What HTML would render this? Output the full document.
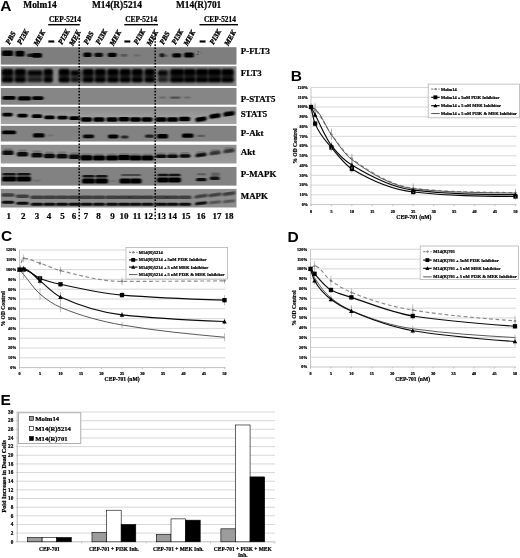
<!DOCTYPE html>
<html><head><meta charset="utf-8"><title>Figure</title>
<style>html,body{margin:0;padding:0;background:#fff}svg{display:block}.sf{font-family:"Liberation Serif", serif;font-weight:bold;stroke:#000;stroke-width:.22px;paint-order:stroke}.ss{font-family:"Liberation Sans", sans-serif;font-weight:bold}</style></head><body>
<svg width="520" height="558" viewBox="0 0 520 558">
<defs><filter id="b1" x="-30%" y="-80%" width="160%" height="260%"><feGaussianBlur stdDeviation="0.9 0.7"/></filter><filter id="b2" x="-30%" y="-80%" width="160%" height="260%"><feGaussianBlur stdDeviation="1.0 0.9"/></filter><linearGradient id="g3" x1="0" y1="0" x2="0" y2="1"><stop offset="0" stop-color="#8a8a8a"/><stop offset=".55" stop-color="#9c9c9c"/><stop offset="1" stop-color="#a4a4a4"/></linearGradient><linearGradient id="g5" x1="0" y1="0" x2="0" y2="1"><stop offset="0" stop-color="#8e8e8e"/><stop offset="1" stop-color="#9b9b9b"/></linearGradient></defs>
<rect width="520" height="558" fill="#fff"/>
<text class="ss" x="0.20" y="11.40" font-size="15.5" text-anchor="start" fill="#000" >A</text>
<text class="sf" x="23.30" y="8.20" font-size="9.4" text-anchor="start" fill="#000" >Molm14</text>
<text class="sf" x="92.00" y="8.20" font-size="9.4" text-anchor="start" fill="#000" >M14(R)5214</text>
<text class="sf" x="176.00" y="8.20" font-size="9.4" text-anchor="start" fill="#000" >M14(R)701</text>
<text class="sf" x="65.00" y="21.60" font-size="7.4" text-anchor="middle" fill="#000" >CEP-5214</text>
<rect x="48.2" y="24" width="31.599999999999994" height="1.4" fill="#000"/>
<text class="sf" x="141.15" y="21.60" font-size="7.4" text-anchor="middle" fill="#000" >CEP-5214</text>
<rect x="124.3" y="24" width="33.7" height="1.4" fill="#000"/>
<text class="sf" x="219.95" y="21.60" font-size="7.4" text-anchor="middle" fill="#000" >CEP-5214</text>
<rect x="199.5" y="24" width="38.5" height="1.4" fill="#000"/>
<text class="sf" font-size="7.3" font-style="italic" style="stroke-width:.35px" transform="translate(9.6,45.0) rotate(-61)" fill="#000">PBS</text>
<text class="sf" font-size="7.3" font-style="italic" style="stroke-width:.35px" transform="translate(21.1,45.0) rotate(-61)" fill="#000">PI3K</text>
<text class="sf" font-size="7.3" font-style="italic" style="stroke-width:.35px" transform="translate(37.6,46.3) rotate(-61)" fill="#000">MEK</text>
<text class="sf" x="49.3" y="42.5" font-size="8.4" style="stroke-width:1.6px" fill="#000">–</text>
<text class="sf" font-size="7.3" font-style="italic" style="stroke-width:.35px" transform="translate(62.1,45.0) rotate(-61)" fill="#000">PI3K</text>
<text class="sf" font-size="7.3" font-style="italic" style="stroke-width:.35px" transform="translate(73.1,46.3) rotate(-61)" fill="#000">MEK</text>
<text class="sf" font-size="7.3" font-style="italic" style="stroke-width:.35px" transform="translate(87.6,45.0) rotate(-61)" fill="#000">PBS</text>
<text class="sf" font-size="7.3" font-style="italic" style="stroke-width:.35px" transform="translate(99.6,45.0) rotate(-61)" fill="#000">PI3K</text>
<text class="sf" font-size="7.3" font-style="italic" style="stroke-width:.35px" transform="translate(113.6,46.3) rotate(-61)" fill="#000">MEK</text>
<text class="sf" x="125.3" y="42.5" font-size="8.4" style="stroke-width:1.6px" fill="#000">–</text>
<text class="sf" font-size="7.3" font-style="italic" style="stroke-width:.35px" transform="translate(137.6,45.0) rotate(-61)" fill="#000">PI3K</text>
<text class="sf" font-size="7.3" font-style="italic" style="stroke-width:.35px" transform="translate(150.6,46.3) rotate(-61)" fill="#000">MEK</text>
<text class="sf" font-size="7.3" font-style="italic" style="stroke-width:.35px" transform="translate(163.6,45.0) rotate(-61)" fill="#000">PBS</text>
<text class="sf" font-size="7.3" font-style="italic" style="stroke-width:.35px" transform="translate(175.6,45.0) rotate(-61)" fill="#000">PI3K</text>
<text class="sf" font-size="7.3" font-style="italic" style="stroke-width:.35px" transform="translate(187.6,46.3) rotate(-61)" fill="#000">MEK</text>
<text class="sf" x="200.5" y="42.5" font-size="8.4" style="stroke-width:1.6px" fill="#000">–</text>
<text class="sf" font-size="7.3" font-style="italic" style="stroke-width:.35px" transform="translate(213.6,45.0) rotate(-61)" fill="#000">PI3K</text>
<text class="sf" font-size="7.3" font-style="italic" style="stroke-width:.35px" transform="translate(228.29999999999998,46.3) rotate(-61)" fill="#000">MEK</text>
<clipPath id="cr0"><rect x="0.8" y="47.2" width="235.7" height="17.39999999999999"/></clipPath>
<rect x="0.8" y="47.2" width="235.7" height="17.39999999999999" fill="#7e7e7e"/>
<clipPath id="cr1"><rect x="0.8" y="66.2" width="235.7" height="19.799999999999997"/></clipPath>
<rect x="0.8" y="66.2" width="235.7" height="19.799999999999997" fill="#8a8a8a"/>
<clipPath id="cr2"><rect x="0.8" y="88.0" width="235.7" height="16.700000000000003"/></clipPath>
<rect x="0.8" y="88.0" width="235.7" height="16.700000000000003" fill="#868686"/>
<clipPath id="cr3"><rect x="0.8" y="106.8" width="235.7" height="17.299999999999997"/></clipPath>
<rect x="0.8" y="106.8" width="235.7" height="17.299999999999997" fill="url(#g3)"/>
<clipPath id="cr4"><rect x="0.8" y="125.8" width="235.7" height="15.700000000000003"/></clipPath>
<rect x="0.8" y="125.8" width="235.7" height="15.700000000000003" fill="#828282"/>
<clipPath id="cr5"><rect x="0.8" y="144.8" width="235.7" height="18.69999999999999"/></clipPath>
<rect x="0.8" y="144.8" width="235.7" height="18.69999999999999" fill="url(#g5)"/>
<clipPath id="cr6"><rect x="0.8" y="167.0" width="235.7" height="18.599999999999994"/></clipPath>
<rect x="0.8" y="167.0" width="235.7" height="18.599999999999994" fill="#828282"/>
<clipPath id="cr7"><rect x="0.8" y="188.9" width="235.7" height="18.599999999999994"/></clipPath>
<rect x="0.8" y="188.9" width="235.7" height="18.599999999999994" fill="#8d8d8d"/>
<g clip-path="url(#cr0)"><rect x="2.0" y="50.40" width="11.0" height="5.60" rx="1.6" fill="#000" opacity="1" filter="url(#b1)"/></g>
<g clip-path="url(#cr0)"><rect x="15.4" y="50.70" width="9.0" height="5.80" rx="1.6" fill="#000" opacity="1" filter="url(#b1)"/></g>
<g clip-path="url(#cr0)"><rect x="27.0" y="53.40" width="14.0" height="3.60" rx="1.6" fill="#000" opacity="0.8" filter="url(#b1)"/></g>
<g clip-path="url(#cr0)"><rect x="32.0" y="53.00" width="9.8" height="4.80" rx="1.6" fill="#000" opacity="0.95" filter="url(#b1)"/></g>
<g clip-path="url(#cr0)"><rect x="83.4" y="52.50" width="8.2" height="4.60" rx="1.6" fill="#000" opacity="1" filter="url(#b1)"/></g>
<g clip-path="url(#cr0)"><rect x="94.4" y="52.70" width="8.6" height="4.20" rx="1.6" fill="#000" opacity="0.9" filter="url(#b1)"/></g>
<g clip-path="url(#cr0)"><rect x="107.8" y="52.70" width="8.8" height="4.40" rx="1.6" fill="#000" opacity="1" filter="url(#b1)"/></g>
<g clip-path="url(#cr0)"><rect x="120.5" y="54.10" width="7.0" height="2.60" rx="1.3" fill="#000" opacity="0.3" filter="url(#b1)"/></g>
<g clip-path="url(#cr0)"><rect x="134.0" y="54.20" width="6.5" height="2.40" rx="1.2" fill="#000" opacity="0.15" filter="url(#b1)"/></g>
<g clip-path="url(#cr0)"><rect x="159.5" y="53.20" width="5.0" height="4.00" rx="1.6" fill="#000" opacity="0.8" filter="url(#b1)"/></g>
<g clip-path="url(#cr0)"><rect x="164.0" y="54.60" width="4.0" height="2.40" rx="1.2" fill="#000" opacity="0.25" filter="url(#b1)"/></g>
<g clip-path="url(#cr0)"><rect x="172.3" y="53.25" width="8.9" height="4.30" rx="1.6" fill="#000" opacity="1" filter="url(#b1)"/></g>
<g clip-path="url(#cr0)"><rect x="184.2" y="52.50" width="9.6" height="5.00" rx="1.6" fill="#000" opacity="1" filter="url(#b1)"/></g>
<text x="196.6" y="55.4" font-size="5.6" font-family='"Liberation Serif", serif' font-style="italic" fill="#333">2<tspan dy="-1.6" font-size="4.6">+</tspan></text>
<g clip-path="url(#cr1)"><rect x="2.0" y="69.75" width="51.0" height="12.50" rx="1.6" fill="#000" opacity="0.42" filter="url(#b2)"/></g>
<g clip-path="url(#cr1)"><rect x="58.5" y="69.75" width="97.5" height="12.50" rx="1.6" fill="#000" opacity="0.42" filter="url(#b2)"/></g>
<g clip-path="url(#cr1)"><rect x="158.0" y="69.75" width="76.0" height="12.50" rx="1.6" fill="#000" opacity="0.42" filter="url(#b2)"/></g>
<g clip-path="url(#cr1)"><rect x="2.0" y="69.00" width="11.0" height="6.60" rx="1.6" fill="#000" opacity="1" filter="url(#b2)"/></g>
<g clip-path="url(#cr1)"><rect x="2.0" y="77.20" width="11.0" height="5.00" rx="1.6" fill="#000" opacity="1" filter="url(#b2)"/></g>
<g clip-path="url(#cr1)"><rect x="2.8" y="74.40" width="9.4" height="4.00" rx="1.6" fill="#000" opacity="0.62" filter="url(#b2)"/></g>
<g clip-path="url(#cr1)"><rect x="15.0" y="69.00" width="10.5" height="6.60" rx="1.6" fill="#000" opacity="1" filter="url(#b2)"/></g>
<g clip-path="url(#cr1)"><rect x="15.0" y="77.20" width="10.5" height="5.00" rx="1.6" fill="#000" opacity="1" filter="url(#b2)"/></g>
<g clip-path="url(#cr1)"><rect x="15.8" y="74.40" width="8.9" height="4.00" rx="1.6" fill="#000" opacity="0.62" filter="url(#b2)"/></g>
<g clip-path="url(#cr1)"><rect x="28.0" y="70.50" width="14.0" height="5.00" rx="1.6" fill="#000" opacity="0.95" filter="url(#b2)"/></g>
<g clip-path="url(#cr1)"><rect x="28.0" y="77.70" width="14.0" height="4.00" rx="1.6" fill="#000" opacity="0.65" filter="url(#b2)"/></g>
<g clip-path="url(#cr1)"><rect x="28.8" y="74.40" width="12.4" height="4.00" rx="1.6" fill="#000" opacity="0.25" filter="url(#b2)"/></g>
<g clip-path="url(#cr1)"><rect x="44.0" y="69.00" width="8.5" height="6.60" rx="1.6" fill="#000" opacity="1" filter="url(#b2)"/></g>
<g clip-path="url(#cr1)"><rect x="44.0" y="77.20" width="8.5" height="5.00" rx="1.6" fill="#000" opacity="1" filter="url(#b2)"/></g>
<g clip-path="url(#cr1)"><rect x="44.8" y="74.40" width="6.9" height="4.00" rx="1.6" fill="#000" opacity="0.62" filter="url(#b2)"/></g>
<g clip-path="url(#cr1)"><rect x="59.0" y="69.00" width="10.5" height="6.60" rx="1.6" fill="#000" opacity="1" filter="url(#b2)"/></g>
<g clip-path="url(#cr1)"><rect x="59.0" y="77.20" width="10.5" height="5.00" rx="1.6" fill="#000" opacity="1" filter="url(#b2)"/></g>
<g clip-path="url(#cr1)"><rect x="59.8" y="74.40" width="8.9" height="4.00" rx="1.6" fill="#000" opacity="0.62" filter="url(#b2)"/></g>
<g clip-path="url(#cr1)"><rect x="71.0" y="70.50" width="8.5" height="5.00" rx="1.6" fill="#000" opacity="1" filter="url(#b2)"/></g>
<g clip-path="url(#cr1)"><rect x="71.0" y="77.70" width="8.5" height="4.00" rx="1.6" fill="#000" opacity="0.8" filter="url(#b2)"/></g>
<g clip-path="url(#cr1)"><rect x="71.8" y="74.40" width="6.9" height="4.00" rx="1.6" fill="#000" opacity="0.25" filter="url(#b2)"/></g>
<g clip-path="url(#cr1)"><rect x="83.0" y="69.00" width="10.5" height="6.60" rx="1.6" fill="#000" opacity="1" filter="url(#b2)"/></g>
<g clip-path="url(#cr1)"><rect x="83.0" y="77.20" width="10.5" height="5.00" rx="1.6" fill="#000" opacity="1" filter="url(#b2)"/></g>
<g clip-path="url(#cr1)"><rect x="83.8" y="74.40" width="8.9" height="4.00" rx="1.6" fill="#000" opacity="0.62" filter="url(#b2)"/></g>
<g clip-path="url(#cr1)"><rect x="95.0" y="69.00" width="10.5" height="6.60" rx="1.6" fill="#000" opacity="1" filter="url(#b2)"/></g>
<g clip-path="url(#cr1)"><rect x="95.0" y="77.20" width="10.5" height="5.00" rx="1.6" fill="#000" opacity="1" filter="url(#b2)"/></g>
<g clip-path="url(#cr1)"><rect x="95.8" y="74.40" width="8.9" height="4.00" rx="1.6" fill="#000" opacity="0.62" filter="url(#b2)"/></g>
<g clip-path="url(#cr1)"><rect x="107.5" y="69.00" width="11.0" height="6.60" rx="1.6" fill="#000" opacity="1" filter="url(#b2)"/></g>
<g clip-path="url(#cr1)"><rect x="107.5" y="77.20" width="11.0" height="5.00" rx="1.6" fill="#000" opacity="1" filter="url(#b2)"/></g>
<g clip-path="url(#cr1)"><rect x="108.3" y="74.40" width="9.4" height="4.00" rx="1.6" fill="#000" opacity="0.62" filter="url(#b2)"/></g>
<g clip-path="url(#cr1)"><rect x="120.0" y="69.00" width="10.5" height="6.60" rx="1.6" fill="#000" opacity="1" filter="url(#b2)"/></g>
<g clip-path="url(#cr1)"><rect x="120.0" y="77.20" width="10.5" height="5.00" rx="1.6" fill="#000" opacity="1" filter="url(#b2)"/></g>
<g clip-path="url(#cr1)"><rect x="120.8" y="74.40" width="8.9" height="4.00" rx="1.6" fill="#000" opacity="0.62" filter="url(#b2)"/></g>
<g clip-path="url(#cr1)"><rect x="132.0" y="69.00" width="10.5" height="6.60" rx="1.6" fill="#000" opacity="1" filter="url(#b2)"/></g>
<g clip-path="url(#cr1)"><rect x="132.0" y="77.20" width="10.5" height="5.00" rx="1.6" fill="#000" opacity="1" filter="url(#b2)"/></g>
<g clip-path="url(#cr1)"><rect x="132.8" y="74.40" width="8.9" height="4.00" rx="1.6" fill="#000" opacity="0.62" filter="url(#b2)"/></g>
<g clip-path="url(#cr1)"><rect x="145.0" y="69.00" width="9.5" height="6.60" rx="1.6" fill="#000" opacity="1" filter="url(#b2)"/></g>
<g clip-path="url(#cr1)"><rect x="145.0" y="77.20" width="9.5" height="5.00" rx="1.6" fill="#000" opacity="1" filter="url(#b2)"/></g>
<g clip-path="url(#cr1)"><rect x="145.8" y="74.40" width="7.9" height="4.00" rx="1.6" fill="#000" opacity="0.62" filter="url(#b2)"/></g>
<g clip-path="url(#cr1)"><rect x="158.0" y="70.50" width="9.5" height="5.00" rx="1.6" fill="#000" opacity="0.8999999999999999" filter="url(#b2)"/></g>
<g clip-path="url(#cr1)"><rect x="158.0" y="77.70" width="9.5" height="4.00" rx="1.6" fill="#000" opacity="0.6" filter="url(#b2)"/></g>
<g clip-path="url(#cr1)"><rect x="158.8" y="74.40" width="7.9" height="4.00" rx="1.6" fill="#000" opacity="0.25" filter="url(#b2)"/></g>
<g clip-path="url(#cr1)"><rect x="170.5" y="69.00" width="13.5" height="6.60" rx="1.6" fill="#000" opacity="1" filter="url(#b2)"/></g>
<g clip-path="url(#cr1)"><rect x="170.5" y="77.20" width="13.5" height="5.00" rx="1.6" fill="#000" opacity="1" filter="url(#b2)"/></g>
<g clip-path="url(#cr1)"><rect x="171.3" y="74.40" width="11.9" height="4.00" rx="1.6" fill="#000" opacity="0.62" filter="url(#b2)"/></g>
<g clip-path="url(#cr1)"><rect x="184.0" y="69.00" width="11.5" height="6.60" rx="1.6" fill="#000" opacity="1" filter="url(#b2)"/></g>
<g clip-path="url(#cr1)"><rect x="184.0" y="77.20" width="11.5" height="5.00" rx="1.6" fill="#000" opacity="1" filter="url(#b2)"/></g>
<g clip-path="url(#cr1)"><rect x="184.8" y="74.40" width="9.9" height="4.00" rx="1.6" fill="#000" opacity="0.62" filter="url(#b2)"/></g>
<g clip-path="url(#cr1)"><rect x="196.0" y="69.00" width="12.0" height="6.60" rx="1.6" fill="#000" opacity="1" filter="url(#b2)"/></g>
<g clip-path="url(#cr1)"><rect x="196.0" y="77.20" width="12.0" height="5.00" rx="1.6" fill="#000" opacity="1" filter="url(#b2)"/></g>
<g clip-path="url(#cr1)"><rect x="196.8" y="74.40" width="10.4" height="4.00" rx="1.6" fill="#000" opacity="0.62" filter="url(#b2)"/></g>
<g clip-path="url(#cr1)"><rect x="208.0" y="69.00" width="13.0" height="6.60" rx="1.6" fill="#000" opacity="1" filter="url(#b2)"/></g>
<g clip-path="url(#cr1)"><rect x="208.0" y="77.20" width="13.0" height="5.00" rx="1.6" fill="#000" opacity="1" filter="url(#b2)"/></g>
<g clip-path="url(#cr1)"><rect x="208.8" y="74.40" width="11.4" height="4.00" rx="1.6" fill="#000" opacity="0.62" filter="url(#b2)"/></g>
<g clip-path="url(#cr1)"><rect x="221.5" y="69.00" width="12.0" height="6.60" rx="1.6" fill="#000" opacity="1" filter="url(#b2)"/></g>
<g clip-path="url(#cr1)"><rect x="221.5" y="77.20" width="12.0" height="5.00" rx="1.6" fill="#000" opacity="1" filter="url(#b2)"/></g>
<g clip-path="url(#cr1)"><rect x="222.3" y="74.40" width="10.4" height="4.00" rx="1.6" fill="#000" opacity="0.62" filter="url(#b2)"/></g>
<g clip-path="url(#cr2)"><rect x="2.5" y="96.00" width="13.0" height="3.80" rx="1.6" fill="#000" opacity="1" filter="url(#b1)"/></g>
<g clip-path="url(#cr2)"><rect x="18.0" y="96.30" width="13.0" height="4.20" rx="1.6" fill="#000" opacity="1" filter="url(#b1)"/></g>
<g clip-path="url(#cr2)"><rect x="32.0" y="96.30" width="11.5" height="3.60" rx="1.6" fill="#000" opacity="1" filter="url(#b1)"/></g>
<g clip-path="url(#cr2)"><rect x="159.0" y="96.60" width="7.0" height="2.00" rx="1.0" fill="#000" opacity="0.22" filter="url(#b1)"/></g>
<g clip-path="url(#cr2)"><rect x="170.0" y="96.50" width="10.5" height="2.20" rx="1.1" fill="#000" opacity="0.4" filter="url(#b1)"/></g>
<g clip-path="url(#cr2)"><rect x="184.0" y="96.60" width="6.5" height="2.00" rx="1.0" fill="#000" opacity="0.22" filter="url(#b1)"/></g>
<g clip-path="url(#cr3)"><rect x="2.3" y="112.75" width="10.4" height="3.70" rx="1.6" fill="#000" opacity="1" filter="url(#b1)"/></g>
<g clip-path="url(#cr3)"><rect x="17.3" y="113.75" width="10.4" height="3.70" rx="1.6" fill="#000" opacity="1" filter="url(#b1)"/></g>
<g clip-path="url(#cr3)"><rect x="31.8" y="114.35" width="10.4" height="3.70" rx="1.6" fill="#000" opacity="1" filter="url(#b1)"/></g>
<g clip-path="url(#cr3)"><rect x="44.3" y="115.55" width="10.4" height="3.70" rx="1.6" fill="#000" opacity="1" filter="url(#b1)"/></g>
<g clip-path="url(#cr3)"><rect x="57.3" y="115.75" width="10.4" height="3.70" rx="1.6" fill="#000" opacity="1" filter="url(#b1)"/></g>
<g clip-path="url(#cr3)"><rect x="69.3" y="116.35" width="10.4" height="3.70" rx="1.6" fill="#000" opacity="1" filter="url(#b1)"/></g>
<g clip-path="url(#cr3)"><rect x="80.9" y="117.15" width="11.2" height="4.50" rx="1.6" fill="#000" opacity="1" filter="url(#b1)"/></g>
<g clip-path="url(#cr3)"><rect x="93.4" y="117.35" width="11.2" height="4.50" rx="1.6" fill="#000" opacity="1" filter="url(#b1)"/></g>
<g clip-path="url(#cr3)"><rect x="106.4" y="117.35" width="11.2" height="4.50" rx="1.6" fill="#000" opacity="1" filter="url(#b1)"/></g>
<g clip-path="url(#cr3)"><rect x="118.4" y="116.95" width="11.2" height="4.50" rx="1.6" fill="#000" opacity="1" filter="url(#b1)"/></g>
<g clip-path="url(#cr3)"><rect x="129.9" y="117.15" width="11.2" height="4.50" rx="1.6" fill="#000" opacity="1" filter="url(#b1)"/></g>
<g clip-path="url(#cr3)"><rect x="141.4" y="117.15" width="11.2" height="4.50" rx="1.6" fill="#000" opacity="1" filter="url(#b1)"/></g>
<g clip-path="url(#cr3)"><rect x="155.4" y="117.35" width="11.2" height="4.50" rx="1.6" fill="#000" opacity="1" filter="url(#b1)"/></g>
<g clip-path="url(#cr3)"><rect x="166.9" y="117.35" width="11.2" height="4.50" rx="1.6" fill="#000" opacity="1" filter="url(#b1)"/></g>
<g clip-path="url(#cr3)"><rect x="178.9" y="116.75" width="11.2" height="4.50" rx="1.6" fill="#000" opacity="1" filter="url(#b1)"/></g>
<g clip-path="url(#cr3)"><rect x="195.4" y="116.95" width="11.2" height="4.50" rx="1.6" fill="#000" opacity="1" filter="url(#b1)" transform="rotate(-8 201.0 119.2)"/></g>
<g clip-path="url(#cr3)"><rect x="209.4" y="113.75" width="11.2" height="4.50" rx="1.6" fill="#000" opacity="1" filter="url(#b1)" transform="rotate(-8 215.0 116.0)"/></g>
<g clip-path="url(#cr3)"><rect x="223.4" y="111.55" width="11.2" height="4.50" rx="1.6" fill="#000" opacity="1" filter="url(#b1)" transform="rotate(-8 229.0 113.8)"/></g>
<g clip-path="url(#cr4)"><rect x="2.0" y="130.50" width="14.0" height="3.80" rx="1.6" fill="#000" opacity="1" filter="url(#b1)"/></g>
<g clip-path="url(#cr4)"><rect x="33.0" y="133.30" width="11.5" height="4.20" rx="1.6" fill="#000" opacity="1" filter="url(#b1)"/></g>
<g clip-path="url(#cr4)"><rect x="47.0" y="134.50" width="7.0" height="2.00" rx="1.0" fill="#000" opacity="0.12" filter="url(#b1)"/></g>
<g clip-path="url(#cr4)"><rect x="83.0" y="134.50" width="11.0" height="3.80" rx="1.6" fill="#000" opacity="0.95" filter="url(#b1)"/></g>
<g clip-path="url(#cr4)"><rect x="108.0" y="134.40" width="10.5" height="4.00" rx="1.6" fill="#000" opacity="1" filter="url(#b1)"/></g>
<g clip-path="url(#cr4)"><rect x="121.0" y="135.50" width="7.5" height="3.00" rx="1.5" fill="#000" opacity="0.7" filter="url(#b1)"/></g>
<g clip-path="url(#cr4)"><rect x="145.0" y="134.60" width="9.0" height="3.20" rx="1.6" fill="#000" opacity="0.75" filter="url(#b1)"/></g>
<g clip-path="url(#cr4)"><rect x="157.0" y="133.90" width="11.0" height="4.60" rx="1.6" fill="#000" opacity="1" filter="url(#b1)"/></g>
<g clip-path="url(#cr4)"><rect x="182.0" y="133.40" width="11.5" height="4.40" rx="1.6" fill="#000" opacity="1" filter="url(#b1)"/></g>
<g clip-path="url(#cr4)"><rect x="197.0" y="134.70" width="8.0" height="2.20" rx="1.1" fill="#000" opacity="0.3" filter="url(#b1)"/></g>
<g clip-path="url(#cr5)"><rect x="2.4" y="150.50" width="11.2" height="4.60" rx="1.6" fill="#000" opacity="0.92" filter="url(#b1)"/></g>
<g clip-path="url(#cr5)"><rect x="3.4" y="148.20" width="9.2" height="2.40" rx="1.2" fill="#000" opacity="0.2" filter="url(#b1)"/></g>
<g clip-path="url(#cr5)"><rect x="16.9" y="151.90" width="11.2" height="4.60" rx="1.6" fill="#000" opacity="0.92" filter="url(#b1)"/></g>
<g clip-path="url(#cr5)"><rect x="17.9" y="149.60" width="9.2" height="2.40" rx="1.2" fill="#000" opacity="0.2" filter="url(#b1)"/></g>
<g clip-path="url(#cr5)"><rect x="31.4" y="152.90" width="11.2" height="4.60" rx="1.6" fill="#000" opacity="0.92" filter="url(#b1)"/></g>
<g clip-path="url(#cr5)"><rect x="32.4" y="150.60" width="9.2" height="2.40" rx="1.2" fill="#000" opacity="0.2" filter="url(#b1)"/></g>
<g clip-path="url(#cr5)"><rect x="43.9" y="153.70" width="11.2" height="4.60" rx="1.6" fill="#000" opacity="0.92" filter="url(#b1)"/></g>
<g clip-path="url(#cr5)"><rect x="44.9" y="151.40" width="9.2" height="2.40" rx="1.2" fill="#000" opacity="0.2" filter="url(#b1)"/></g>
<g clip-path="url(#cr5)"><rect x="56.4" y="153.90" width="11.2" height="4.60" rx="1.6" fill="#000" opacity="0.92" filter="url(#b1)"/></g>
<g clip-path="url(#cr5)"><rect x="57.4" y="151.60" width="9.2" height="2.40" rx="1.2" fill="#000" opacity="0.2" filter="url(#b1)"/></g>
<g clip-path="url(#cr5)"><rect x="68.9" y="154.50" width="11.2" height="4.60" rx="1.6" fill="#000" opacity="0.92" filter="url(#b1)"/></g>
<g clip-path="url(#cr5)"><rect x="69.9" y="152.20" width="9.2" height="2.40" rx="1.2" fill="#000" opacity="0.2" filter="url(#b1)"/></g>
<g clip-path="url(#cr5)"><rect x="80.3" y="155.20" width="12.4" height="5.20" rx="1.6" fill="#000" opacity="1" filter="url(#b1)"/></g>
<g clip-path="url(#cr5)"><rect x="81.3" y="153.20" width="10.4" height="2.40" rx="1.2" fill="#000" opacity="0.2" filter="url(#b1)"/></g>
<g clip-path="url(#cr5)"><rect x="92.8" y="155.40" width="12.4" height="5.20" rx="1.6" fill="#000" opacity="1" filter="url(#b1)"/></g>
<g clip-path="url(#cr5)"><rect x="93.8" y="153.40" width="10.4" height="2.40" rx="1.2" fill="#000" opacity="0.2" filter="url(#b1)"/></g>
<g clip-path="url(#cr5)"><rect x="105.8" y="155.40" width="12.4" height="5.20" rx="1.6" fill="#000" opacity="1" filter="url(#b1)"/></g>
<g clip-path="url(#cr5)"><rect x="106.8" y="153.40" width="10.4" height="2.40" rx="1.2" fill="#000" opacity="0.2" filter="url(#b1)"/></g>
<g clip-path="url(#cr5)"><rect x="117.8" y="155.00" width="12.4" height="5.20" rx="1.6" fill="#000" opacity="1" filter="url(#b1)"/></g>
<g clip-path="url(#cr5)"><rect x="118.8" y="153.00" width="10.4" height="2.40" rx="1.2" fill="#000" opacity="0.2" filter="url(#b1)"/></g>
<g clip-path="url(#cr5)"><rect x="129.3" y="155.40" width="12.4" height="5.20" rx="1.6" fill="#000" opacity="1" filter="url(#b1)"/></g>
<g clip-path="url(#cr5)"><rect x="130.3" y="153.40" width="10.4" height="2.40" rx="1.2" fill="#000" opacity="0.2" filter="url(#b1)"/></g>
<g clip-path="url(#cr5)"><rect x="141.3" y="155.40" width="12.4" height="5.20" rx="1.6" fill="#000" opacity="1" filter="url(#b1)"/></g>
<g clip-path="url(#cr5)"><rect x="142.3" y="153.40" width="10.4" height="2.40" rx="1.2" fill="#000" opacity="0.2" filter="url(#b1)"/></g>
<g clip-path="url(#cr5)"><rect x="155.4" y="154.55" width="11.2" height="3.50" rx="1.6" fill="#000" opacity="0.92" filter="url(#b1)"/></g>
<g clip-path="url(#cr5)"><rect x="156.4" y="152.40" width="9.2" height="2.40" rx="1.2" fill="#000" opacity="0.2" filter="url(#b1)"/></g>
<g clip-path="url(#cr5)"><rect x="166.9" y="154.55" width="11.2" height="3.50" rx="1.6" fill="#000" opacity="0.92" filter="url(#b1)"/></g>
<g clip-path="url(#cr5)"><rect x="167.9" y="152.40" width="9.2" height="2.40" rx="1.2" fill="#000" opacity="0.2" filter="url(#b1)"/></g>
<g clip-path="url(#cr5)"><rect x="179.4" y="154.15" width="11.2" height="3.50" rx="1.6" fill="#000" opacity="0.92" filter="url(#b1)"/></g>
<g clip-path="url(#cr5)"><rect x="180.4" y="152.00" width="9.2" height="2.40" rx="1.2" fill="#000" opacity="0.2" filter="url(#b1)"/></g>
<g clip-path="url(#cr5)"><rect x="195.4" y="153.35" width="11.2" height="3.50" rx="1.6" fill="#000" opacity="0.92" filter="url(#b1)" transform="rotate(-7 201.0 155.1)"/></g>
<g clip-path="url(#cr5)"><rect x="196.4" y="151.20" width="9.2" height="2.40" rx="1.2" fill="#000" opacity="0.2" filter="url(#b1)"/></g>
<g clip-path="url(#cr5)"><rect x="209.4" y="151.35" width="11.2" height="3.50" rx="1.6" fill="#000" opacity="0.65" filter="url(#b1)" transform="rotate(-7 215.0 153.1)"/></g>
<g clip-path="url(#cr5)"><rect x="210.4" y="149.20" width="9.2" height="2.40" rx="1.2" fill="#000" opacity="0.2" filter="url(#b1)"/></g>
<g clip-path="url(#cr5)"><rect x="223.4" y="149.35" width="11.2" height="3.50" rx="1.6" fill="#000" opacity="0.65" filter="url(#b1)" transform="rotate(-7 229.0 151.1)"/></g>
<g clip-path="url(#cr5)"><rect x="224.4" y="147.20" width="9.2" height="2.40" rx="1.2" fill="#000" opacity="0.2" filter="url(#b1)"/></g>
<g clip-path="url(#cr6)"><rect x="2.0" y="176.60" width="14.5" height="5.00" rx="1.6" fill="#000" opacity="1" filter="url(#b1)"/></g>
<g clip-path="url(#cr6)"><rect x="2.5" y="173.05" width="13.5" height="2.50" rx="1.2" fill="#000" opacity="0.85" filter="url(#b1)"/></g>
<g clip-path="url(#cr6)"><rect x="16.5" y="176.60" width="14.5" height="5.00" rx="1.6" fill="#000" opacity="1" filter="url(#b1)"/></g>
<g clip-path="url(#cr6)"><rect x="17.0" y="173.05" width="13.5" height="2.50" rx="1.2" fill="#000" opacity="0.85" filter="url(#b1)"/></g>
<g clip-path="url(#cr6)"><rect x="33.0" y="179.50" width="8.0" height="2.00" rx="1.0" fill="#000" opacity="0.12" filter="url(#b1)"/></g>
<g clip-path="url(#cr6)"><rect x="82.0" y="178.60" width="13.0" height="5.00" rx="1.6" fill="#000" opacity="1" filter="url(#b1)"/></g>
<g clip-path="url(#cr6)"><rect x="82.5" y="175.05" width="12.0" height="2.50" rx="1.2" fill="#000" opacity="0.85" filter="url(#b1)"/></g>
<g clip-path="url(#cr6)"><rect x="95.0" y="178.60" width="13.0" height="5.00" rx="1.6" fill="#000" opacity="1" filter="url(#b1)"/></g>
<g clip-path="url(#cr6)"><rect x="95.5" y="175.05" width="12.0" height="2.50" rx="1.2" fill="#000" opacity="0.85" filter="url(#b1)"/></g>
<g clip-path="url(#cr6)"><rect x="109.0" y="180.00" width="7.0" height="2.00" rx="1.0" fill="#000" opacity="0.1" filter="url(#b1)"/></g>
<g clip-path="url(#cr6)"><rect x="119.5" y="178.60" width="11.5" height="5.00" rx="1.6" fill="#000" opacity="1" filter="url(#b1)"/></g>
<g clip-path="url(#cr6)"><rect x="130.0" y="178.60" width="11.5" height="5.00" rx="1.6" fill="#000" opacity="1" filter="url(#b1)"/></g>
<g clip-path="url(#cr6)"><rect x="121.0" y="173.90" width="20.0" height="2.20" rx="1.1" fill="#000" opacity="0.45" filter="url(#b1)"/></g>
<g clip-path="url(#cr6)"><rect x="157.0" y="177.40" width="12.0" height="5.00" rx="1.6" fill="#000" opacity="1" filter="url(#b1)"/></g>
<g clip-path="url(#cr6)"><rect x="157.5" y="173.85" width="11.0" height="2.50" rx="1.2" fill="#000" opacity="0.85" filter="url(#b1)"/></g>
<g clip-path="url(#cr6)"><rect x="168.0" y="177.40" width="13.0" height="5.00" rx="1.6" fill="#000" opacity="1" filter="url(#b1)"/></g>
<g clip-path="url(#cr6)"><rect x="168.5" y="173.85" width="12.0" height="2.50" rx="1.2" fill="#000" opacity="0.85" filter="url(#b1)"/></g>
<g clip-path="url(#cr6)"><rect x="196.0" y="177.90" width="10.5" height="3.40" rx="1.6" fill="#000" opacity="0.9" filter="url(#b1)"/></g>
<g clip-path="url(#cr6)"><rect x="197.0" y="173.20" width="9.0" height="2.00" rx="1.0" fill="#000" opacity="0.3" filter="url(#b1)"/></g>
<g clip-path="url(#cr6)"><rect x="209.8" y="176.50" width="9.8" height="3.60" rx="1.6" fill="#000" opacity="0.85" filter="url(#b1)"/></g>
<g clip-path="url(#cr6)"><rect x="211.0" y="172.50" width="9.0" height="3.40" rx="1.6" fill="#000" opacity="0.25" filter="url(#b1)"/></g>
<g clip-path="url(#cr7)"><rect x="1.4" y="193.30" width="13.2" height="3.40" rx="1.6" fill="#000" opacity="0.55" filter="url(#b1)"/></g>
<g clip-path="url(#cr7)"><rect x="1.9" y="200.86" width="12.2" height="3.00" rx="1.5" fill="#000" opacity="0.9" filter="url(#b1)"/></g>
<g clip-path="url(#cr7)"><rect x="15.9" y="194.50" width="13.2" height="3.40" rx="1.6" fill="#000" opacity="0.55" filter="url(#b1)"/></g>
<g clip-path="url(#cr7)"><rect x="16.4" y="201.82" width="12.2" height="3.00" rx="1.5" fill="#000" opacity="0.9" filter="url(#b1)"/></g>
<g clip-path="url(#cr7)"><rect x="30.4" y="195.60" width="13.2" height="3.40" rx="1.6" fill="#000" opacity="0.55" filter="url(#b1)"/></g>
<g clip-path="url(#cr7)"><rect x="30.9" y="202.70" width="12.2" height="3.00" rx="1.5" fill="#000" opacity="0.9" filter="url(#b1)"/></g>
<g clip-path="url(#cr7)"><rect x="42.9" y="195.60" width="13.2" height="3.40" rx="1.6" fill="#000" opacity="0.55" filter="url(#b1)"/></g>
<g clip-path="url(#cr7)"><rect x="43.4" y="202.70" width="12.2" height="3.00" rx="1.5" fill="#000" opacity="0.9" filter="url(#b1)"/></g>
<g clip-path="url(#cr7)"><rect x="55.4" y="195.60" width="13.2" height="3.40" rx="1.6" fill="#000" opacity="0.55" filter="url(#b1)"/></g>
<g clip-path="url(#cr7)"><rect x="55.9" y="202.70" width="12.2" height="3.00" rx="1.5" fill="#000" opacity="0.9" filter="url(#b1)"/></g>
<g clip-path="url(#cr7)"><rect x="67.9" y="195.60" width="13.2" height="3.40" rx="1.6" fill="#000" opacity="0.55" filter="url(#b1)"/></g>
<g clip-path="url(#cr7)"><rect x="68.4" y="202.70" width="12.2" height="3.00" rx="1.5" fill="#000" opacity="0.9" filter="url(#b1)"/></g>
<g clip-path="url(#cr7)"><rect x="79.9" y="195.60" width="13.2" height="3.40" rx="1.6" fill="#000" opacity="0.55" filter="url(#b1)"/></g>
<g clip-path="url(#cr7)"><rect x="80.4" y="202.70" width="12.2" height="3.00" rx="1.5" fill="#000" opacity="0.9" filter="url(#b1)"/></g>
<g clip-path="url(#cr7)"><rect x="92.4" y="195.60" width="13.2" height="3.40" rx="1.6" fill="#000" opacity="0.55" filter="url(#b1)"/></g>
<g clip-path="url(#cr7)"><rect x="92.9" y="202.70" width="12.2" height="3.00" rx="1.5" fill="#000" opacity="0.9" filter="url(#b1)"/></g>
<g clip-path="url(#cr7)"><rect x="105.4" y="195.60" width="13.2" height="3.40" rx="1.6" fill="#000" opacity="0.55" filter="url(#b1)"/></g>
<g clip-path="url(#cr7)"><rect x="105.9" y="202.70" width="12.2" height="3.00" rx="1.5" fill="#000" opacity="0.9" filter="url(#b1)"/></g>
<g clip-path="url(#cr7)"><rect x="117.4" y="195.60" width="13.2" height="3.40" rx="1.6" fill="#000" opacity="0.55" filter="url(#b1)"/></g>
<g clip-path="url(#cr7)"><rect x="117.9" y="202.70" width="12.2" height="3.00" rx="1.5" fill="#000" opacity="0.9" filter="url(#b1)"/></g>
<g clip-path="url(#cr7)"><rect x="128.9" y="195.60" width="13.2" height="3.40" rx="1.6" fill="#000" opacity="0.55" filter="url(#b1)"/></g>
<g clip-path="url(#cr7)"><rect x="129.4" y="202.70" width="12.2" height="3.00" rx="1.5" fill="#000" opacity="0.9" filter="url(#b1)"/></g>
<g clip-path="url(#cr7)"><rect x="140.9" y="195.60" width="13.2" height="3.40" rx="1.6" fill="#000" opacity="0.55" filter="url(#b1)"/></g>
<g clip-path="url(#cr7)"><rect x="141.4" y="202.70" width="12.2" height="3.00" rx="1.5" fill="#000" opacity="0.9" filter="url(#b1)"/></g>
<g clip-path="url(#cr7)"><rect x="154.4" y="195.60" width="13.2" height="3.40" rx="1.6" fill="#000" opacity="0.55" filter="url(#b1)"/></g>
<g clip-path="url(#cr7)"><rect x="154.9" y="202.70" width="12.2" height="3.00" rx="1.5" fill="#000" opacity="0.9" filter="url(#b1)"/></g>
<g clip-path="url(#cr7)"><rect x="165.9" y="195.60" width="13.2" height="3.40" rx="1.6" fill="#000" opacity="0.55" filter="url(#b1)"/></g>
<g clip-path="url(#cr7)"><rect x="166.4" y="202.70" width="12.2" height="3.00" rx="1.5" fill="#000" opacity="0.9" filter="url(#b1)"/></g>
<g clip-path="url(#cr7)"><rect x="178.4" y="195.60" width="13.2" height="3.40" rx="1.6" fill="#000" opacity="0.55" filter="url(#b1)"/></g>
<g clip-path="url(#cr7)"><rect x="178.9" y="202.70" width="12.2" height="3.00" rx="1.5" fill="#000" opacity="0.9" filter="url(#b1)"/></g>
<g clip-path="url(#cr7)"><rect x="194.4" y="194.40" width="13.2" height="3.40" rx="1.6" fill="#000" opacity="0.55" filter="url(#b1)" transform="rotate(-8 201.0 196.10000000000002)"/></g>
<g clip-path="url(#cr7)"><rect x="194.9" y="201.74" width="12.2" height="3.00" rx="1.5" fill="#000" opacity="0.9" filter="url(#b1)" transform="rotate(-6 201.0 203.23999999999998)"/></g>
<g clip-path="url(#cr7)"><rect x="208.4" y="193.20" width="13.2" height="3.40" rx="1.6" fill="#000" opacity="0.55" filter="url(#b1)" transform="rotate(-8 215.0 194.9)"/></g>
<g clip-path="url(#cr7)"><rect x="208.9" y="200.78" width="12.2" height="3.00" rx="1.5" fill="#000" opacity="0.4" filter="url(#b1)" transform="rotate(-6 215.0 202.28)"/></g>
<g clip-path="url(#cr7)"><rect x="222.4" y="192.00" width="13.2" height="3.40" rx="1.6" fill="#000" opacity="0.55" filter="url(#b1)" transform="rotate(-8 229.0 193.70000000000002)"/></g>
<g clip-path="url(#cr7)"><rect x="222.9" y="199.82" width="12.2" height="3.00" rx="1.5" fill="#000" opacity="0.4" filter="url(#b1)" transform="rotate(-6 229.0 201.32)"/></g>
<line x1="79.2" y1="35" x2="79.2" y2="219.5" stroke="#000" stroke-width="1.5" stroke-dasharray="1.6 1.5"/>
<line x1="155.2" y1="35" x2="155.2" y2="219.5" stroke="#000" stroke-width="1.5" stroke-dasharray="1.6 1.5"/>
<text class="sf" x="240.80" y="54.40" font-size="8.9" text-anchor="start" fill="#000" >P-FLT3</text>
<text class="sf" x="240.80" y="76.40" font-size="8.9" text-anchor="start" fill="#000" >FLT3</text>
<text class="sf" x="240.80" y="101.60" font-size="8.9" text-anchor="start" fill="#000" >P-STAT5</text>
<text class="sf" x="240.80" y="117.20" font-size="8.9" text-anchor="start" fill="#000" >STAT5</text>
<text class="sf" x="240.80" y="136.30" font-size="8.9" text-anchor="start" fill="#000" >P-Akt</text>
<text class="sf" x="240.80" y="155.20" font-size="8.9" text-anchor="start" fill="#000" >Akt</text>
<text class="sf" x="240.80" y="176.90" font-size="8.9" text-anchor="start" fill="#000" >P-MAPK</text>
<text class="sf" x="240.80" y="199.00" font-size="8.9" text-anchor="start" fill="#000" >MAPK</text>
<text class="sf" x="8.80" y="218.80" font-size="9.0" text-anchor="middle" fill="#000" >1</text>
<text class="sf" x="23.20" y="218.80" font-size="9.0" text-anchor="middle" fill="#000" >2</text>
<text class="sf" x="37.00" y="218.80" font-size="9.0" text-anchor="middle" fill="#000" >3</text>
<text class="sf" x="49.00" y="218.80" font-size="9.0" text-anchor="middle" fill="#000" >4</text>
<text class="sf" x="62.50" y="218.80" font-size="9.0" text-anchor="middle" fill="#000" >5</text>
<text class="sf" x="74.00" y="218.80" font-size="9.0" text-anchor="middle" fill="#000" >6</text>
<text class="sf" x="86.00" y="218.80" font-size="9.0" text-anchor="middle" fill="#000" >7</text>
<text class="sf" x="98.50" y="218.80" font-size="9.0" text-anchor="middle" fill="#000" >8</text>
<text class="sf" x="112.50" y="218.80" font-size="9.0" text-anchor="middle" fill="#000" >9</text>
<text class="sf" x="124.00" y="218.80" font-size="9.0" text-anchor="middle" fill="#000" >10</text>
<text class="sf" x="137.00" y="218.80" font-size="9.0" text-anchor="middle" fill="#000" >11</text>
<text class="sf" x="148.50" y="218.80" font-size="9.0" text-anchor="middle" fill="#000" >12</text>
<text class="sf" x="161.50" y="218.80" font-size="9.0" text-anchor="middle" fill="#000" >13</text>
<text class="sf" x="172.50" y="218.80" font-size="9.0" text-anchor="middle" fill="#000" >14</text>
<text class="sf" x="186.00" y="218.80" font-size="9.0" text-anchor="middle" fill="#000" >15</text>
<text class="sf" x="201.00" y="218.80" font-size="9.0" text-anchor="middle" fill="#000" >16</text>
<text class="sf" x="217.00" y="218.80" font-size="9.0" text-anchor="middle" fill="#000" >17</text>
<text class="sf" x="229.00" y="218.80" font-size="9.0" text-anchor="middle" fill="#000" >18</text>
<text class="ss" x="290.80" y="80.80" font-size="15.5" text-anchor="start" fill="#000" >B</text>
<line x1="311" y1="87.50" x2="516.5" y2="87.50" stroke="#cdcdcd" stroke-width="0.8"/>
<text class="sf" x="307.80" y="88.90" font-size="4.1" text-anchor="end" fill="#000" >120%</text>
<line x1="311" y1="97.26" x2="516.5" y2="97.26" stroke="#cdcdcd" stroke-width="0.8"/>
<text class="sf" x="307.80" y="98.66" font-size="4.1" text-anchor="end" fill="#000" >110%</text>
<line x1="311" y1="107.02" x2="516.5" y2="107.02" stroke="#cdcdcd" stroke-width="0.8"/>
<text class="sf" x="307.80" y="108.42" font-size="4.1" text-anchor="end" fill="#000" >100%</text>
<line x1="311" y1="116.78" x2="516.5" y2="116.78" stroke="#cdcdcd" stroke-width="0.8"/>
<text class="sf" x="307.80" y="118.18" font-size="4.1" text-anchor="end" fill="#000" >90%</text>
<line x1="311" y1="126.53" x2="516.5" y2="126.53" stroke="#cdcdcd" stroke-width="0.8"/>
<text class="sf" x="307.80" y="127.93" font-size="4.1" text-anchor="end" fill="#000" >80%</text>
<line x1="311" y1="136.29" x2="516.5" y2="136.29" stroke="#cdcdcd" stroke-width="0.8"/>
<text class="sf" x="307.80" y="137.69" font-size="4.1" text-anchor="end" fill="#000" >70%</text>
<line x1="311" y1="146.05" x2="516.5" y2="146.05" stroke="#cdcdcd" stroke-width="0.8"/>
<text class="sf" x="307.80" y="147.45" font-size="4.1" text-anchor="end" fill="#000" >60%</text>
<line x1="311" y1="155.81" x2="516.5" y2="155.81" stroke="#cdcdcd" stroke-width="0.8"/>
<text class="sf" x="307.80" y="157.21" font-size="4.1" text-anchor="end" fill="#000" >50%</text>
<line x1="311" y1="165.57" x2="516.5" y2="165.57" stroke="#cdcdcd" stroke-width="0.8"/>
<text class="sf" x="307.80" y="166.97" font-size="4.1" text-anchor="end" fill="#000" >40%</text>
<line x1="311" y1="175.32" x2="516.5" y2="175.32" stroke="#cdcdcd" stroke-width="0.8"/>
<text class="sf" x="307.80" y="176.72" font-size="4.1" text-anchor="end" fill="#000" >30%</text>
<line x1="311" y1="185.08" x2="516.5" y2="185.08" stroke="#cdcdcd" stroke-width="0.8"/>
<text class="sf" x="307.80" y="186.48" font-size="4.1" text-anchor="end" fill="#000" >20%</text>
<line x1="311" y1="194.84" x2="516.5" y2="194.84" stroke="#cdcdcd" stroke-width="0.8"/>
<text class="sf" x="307.80" y="196.24" font-size="4.1" text-anchor="end" fill="#000" >10%</text>
<line x1="311" y1="204.60" x2="516.5" y2="204.60" stroke="#b4b4b4" stroke-width="0.8"/>
<text class="sf" x="307.80" y="206.00" font-size="4.1" text-anchor="end" fill="#000" >0%</text>
<line x1="311" y1="87.5" x2="311" y2="206.1" stroke="#b0b0b0" stroke-width="0.7"/>
<line x1="311.00" y1="204.6" x2="311.00" y2="206.1" stroke="#b0b0b0" stroke-width="0.7"/>
<text class="sf" x="311.00" y="212.60" font-size="4.1" text-anchor="middle" fill="#000" >0</text>
<line x1="331.45" y1="204.6" x2="331.45" y2="206.1" stroke="#b0b0b0" stroke-width="0.7"/>
<text class="sf" x="331.45" y="212.60" font-size="4.1" text-anchor="middle" fill="#000" >5</text>
<line x1="351.90" y1="204.6" x2="351.90" y2="206.1" stroke="#b0b0b0" stroke-width="0.7"/>
<text class="sf" x="351.90" y="212.60" font-size="4.1" text-anchor="middle" fill="#000" >10</text>
<line x1="372.35" y1="204.6" x2="372.35" y2="206.1" stroke="#b0b0b0" stroke-width="0.7"/>
<text class="sf" x="372.35" y="212.60" font-size="4.1" text-anchor="middle" fill="#000" >15</text>
<line x1="392.80" y1="204.6" x2="392.80" y2="206.1" stroke="#b0b0b0" stroke-width="0.7"/>
<text class="sf" x="392.80" y="212.60" font-size="4.1" text-anchor="middle" fill="#000" >20</text>
<line x1="413.25" y1="204.6" x2="413.25" y2="206.1" stroke="#b0b0b0" stroke-width="0.7"/>
<text class="sf" x="413.25" y="212.60" font-size="4.1" text-anchor="middle" fill="#000" >25</text>
<line x1="433.70" y1="204.6" x2="433.70" y2="206.1" stroke="#b0b0b0" stroke-width="0.7"/>
<text class="sf" x="433.70" y="212.60" font-size="4.1" text-anchor="middle" fill="#000" >30</text>
<line x1="454.15" y1="204.6" x2="454.15" y2="206.1" stroke="#b0b0b0" stroke-width="0.7"/>
<text class="sf" x="454.15" y="212.60" font-size="4.1" text-anchor="middle" fill="#000" >35</text>
<line x1="474.60" y1="204.6" x2="474.60" y2="206.1" stroke="#b0b0b0" stroke-width="0.7"/>
<text class="sf" x="474.60" y="212.60" font-size="4.1" text-anchor="middle" fill="#000" >40</text>
<line x1="495.05" y1="204.6" x2="495.05" y2="206.1" stroke="#b0b0b0" stroke-width="0.7"/>
<text class="sf" x="495.05" y="212.60" font-size="4.1" text-anchor="middle" fill="#000" >45</text>
<line x1="515.50" y1="204.6" x2="515.50" y2="206.1" stroke="#b0b0b0" stroke-width="0.7"/>
<text class="sf" x="515.50" y="212.60" font-size="4.1" text-anchor="middle" fill="#000" >50</text>
<text class="sf" x="413.85" y="218.80" font-size="5.6" text-anchor="middle" fill="#000" >CEP-701 (nM)</text>
<text class="sf" font-size="5.6" text-anchor="middle" transform="translate(296.6,146.05) rotate(-90)">% OD Control</text>
<line x1="311.00" y1="103.11" x2="311.00" y2="110.92" stroke="#a8a8a8" stroke-width="0.7"/>
<line x1="315.09" y1="103.11" x2="315.09" y2="116.78" stroke="#a8a8a8" stroke-width="0.7"/>
<line x1="331.45" y1="128.48" x2="331.45" y2="140.19" stroke="#a8a8a8" stroke-width="0.7"/>
<line x1="351.90" y1="153.86" x2="351.90" y2="163.61" stroke="#a8a8a8" stroke-width="0.7"/>
<line x1="413.25" y1="183.33" x2="413.25" y2="193.09" stroke="#a8a8a8" stroke-width="0.7"/>
<line x1="515.50" y1="188.69" x2="515.50" y2="196.50" stroke="#a8a8a8" stroke-width="0.7"/>
<path d="M311.00,107.02 C312.36,107.86 313.73,108.71 315.09,109.94 C320.54,114.87 326.00,127.08 331.45,134.34 C338.27,143.41 345.08,153.71 351.90,158.74 C372.35,173.81 392.80,185.80 413.25,188.21 C430.29,190.21 447.33,191.25 464.38,191.72 C481.42,192.19 498.46,192.39 515.50,192.60" fill="none" stroke="#8a8a8a" stroke-width="1.15" stroke-dasharray="3.8 2.6"/>
<path d="M311.00,105.52 L312.50,107.02 L311.00,108.52 L309.50,107.02Z" fill="#858585"/>
<path d="M315.09,108.44 L316.59,109.94 L315.09,111.44 L313.59,109.94Z" fill="#858585"/>
<path d="M331.45,132.84 L332.95,134.34 L331.45,135.84 L329.95,134.34Z" fill="#858585"/>
<path d="M351.90,157.24 L353.40,158.74 L351.90,160.24 L350.40,158.74Z" fill="#858585"/>
<path d="M413.25,186.71 L414.75,188.21 L413.25,189.71 L411.75,188.21Z" fill="#858585"/>
<path d="M515.50,191.10 L517.00,192.60 L515.50,194.10 L514.00,192.60Z" fill="#858585"/>
<line x1="311.00" y1="104.09" x2="311.00" y2="109.94" stroke="#a8a8a8" stroke-width="0.7"/>
<line x1="315.09" y1="104.09" x2="315.09" y2="113.85" stroke="#a8a8a8" stroke-width="0.7"/>
<line x1="331.45" y1="129.95" x2="331.45" y2="139.71" stroke="#a8a8a8" stroke-width="0.7"/>
<line x1="351.90" y1="154.83" x2="351.90" y2="164.59" stroke="#a8a8a8" stroke-width="0.7"/>
<line x1="413.25" y1="184.79" x2="413.25" y2="192.60" stroke="#a8a8a8" stroke-width="0.7"/>
<line x1="515.50" y1="189.18" x2="515.50" y2="196.99" stroke="#a8a8a8" stroke-width="0.7"/>
<path d="M311.00,107.02 C312.36,107.54 313.73,108.07 315.09,108.97 C320.54,112.58 326.00,127.29 331.45,134.83 C338.27,144.25 345.08,154.70 351.90,159.71 C372.35,174.73 392.80,186.29 413.25,188.69 C430.29,190.69 447.33,191.74 464.38,192.21 C481.42,192.68 498.46,192.88 515.50,193.09" fill="none" stroke="#585858" stroke-width="1.0"/>
<line x1="315.09" y1="120.68" x2="315.09" y2="126.53" stroke="#999" stroke-width="0.7"/>
<line x1="331.45" y1="143.61" x2="331.45" y2="151.42" stroke="#999" stroke-width="0.7"/>
<line x1="351.90" y1="165.08" x2="351.90" y2="172.89" stroke="#999" stroke-width="0.7"/>
<line x1="413.25" y1="189.08" x2="413.25" y2="194.94" stroke="#999" stroke-width="0.7"/>
<line x1="515.50" y1="193.57" x2="515.50" y2="199.43" stroke="#999" stroke-width="0.7"/>
<path d="M311.00,107.02 C312.36,113.69 313.73,120.37 315.09,123.61 C320.54,136.54 326.00,140.81 331.45,147.51 C338.27,155.89 345.08,164.89 351.90,168.98 C372.35,181.26 392.80,189.63 413.25,192.01 C430.29,194.00 447.33,195.15 464.38,195.62 C481.42,196.09 498.46,196.30 515.50,196.50" fill="none" stroke="#0a0a0a" stroke-width="1.15"/>
<rect x="308.85" y="104.87" width="4.30" height="4.30" fill="#000"/>
<rect x="312.94" y="121.46" width="4.30" height="4.30" fill="#000"/>
<rect x="329.30" y="145.36" width="4.30" height="4.30" fill="#000"/>
<rect x="349.75" y="166.83" width="4.30" height="4.30" fill="#000"/>
<rect x="411.10" y="189.86" width="4.30" height="4.30" fill="#000"/>
<rect x="513.35" y="194.35" width="4.30" height="4.30" fill="#000"/>
<line x1="315.09" y1="111.90" x2="315.09" y2="117.75" stroke="#999" stroke-width="0.7"/>
<line x1="331.45" y1="141.66" x2="331.45" y2="149.47" stroke="#999" stroke-width="0.7"/>
<line x1="351.90" y1="161.18" x2="351.90" y2="168.98" stroke="#999" stroke-width="0.7"/>
<line x1="413.25" y1="187.23" x2="413.25" y2="193.09" stroke="#999" stroke-width="0.7"/>
<line x1="515.50" y1="191.72" x2="515.50" y2="197.57" stroke="#999" stroke-width="0.7"/>
<path d="M311.00,107.02 C312.36,109.63 313.73,112.24 315.09,114.82 C320.54,125.17 326.00,138.57 331.45,145.56 C338.27,154.30 345.08,160.90 351.90,165.08 C372.35,177.62 392.80,187.69 413.25,190.16 C430.29,192.21 447.33,193.44 464.38,193.87 C481.42,194.30 498.46,194.47 515.50,194.65" fill="none" stroke="#0a0a0a" stroke-width="1.15"/>
<path d="M311.00,104.72 L313.30,108.86 L308.70,108.86Z" fill="#000"/>
<path d="M315.09,112.52 L317.39,116.66 L312.79,116.66Z" fill="#000"/>
<path d="M331.45,143.26 L333.75,147.40 L329.15,147.40Z" fill="#000"/>
<path d="M351.90,162.78 L354.20,166.92 L349.60,166.92Z" fill="#000"/>
<path d="M413.25,187.86 L415.55,192.00 L410.95,192.00Z" fill="#000"/>
<path d="M515.50,192.35 L517.80,196.49 L513.20,196.49Z" fill="#000"/>
<rect x="428.2" y="84.1" width="91.19999999999999" height="33.7" fill="#fff" stroke="#b5b5b5" stroke-width="0.8"/>
<line x1="431.2" y1="89.1" x2="439.7" y2="89.1" stroke="#8a8a8a" stroke-width="1.15" stroke-dasharray="2.2 1.4"/>
<path d="M435.40,87.75 L436.75,89.10 L435.40,90.45 L434.05,89.10Z" fill="#858585"/>
<text class="sf" x="441.00" y="90.60" font-size="4.4" text-anchor="start" fill="#000" >Molm14</text>
<line x1="431.2" y1="97.3" x2="439.7" y2="97.3" stroke="#0a0a0a" stroke-width="1.15"/>
<rect x="433.46" y="95.36" width="3.87" height="3.87" fill="#000"/>
<text class="sf" x="441.00" y="98.80" font-size="4.4" text-anchor="start" fill="#000" >Molm14 + 5uM PI3K Inhibitor</text>
<line x1="431.2" y1="105.7" x2="439.7" y2="105.7" stroke="#0a0a0a" stroke-width="1.15"/>
<path d="M435.40,103.63 L437.47,107.36 L433.33,107.36Z" fill="#000"/>
<text class="sf" x="441.00" y="107.20" font-size="4.4" text-anchor="start" fill="#000" >Molm14 + 5 uM MEK Inhibitor</text>
<line x1="431.2" y1="113.5" x2="439.7" y2="113.5" stroke="#585858" stroke-width="1.0"/>
<text class="sf" x="441.00" y="115.00" font-size="4.4" text-anchor="start" fill="#000" >Molm14 + 5 uM PI3K &amp; MEK Inhibitor</text>
<text class="ss" x="1.10" y="241.10" font-size="15.5" text-anchor="start" fill="#000" >C</text>
<line x1="19.5" y1="250.00" x2="225.5" y2="250.00" stroke="#cdcdcd" stroke-width="0.8"/>
<text class="sf" x="16.30" y="251.40" font-size="4.1" text-anchor="end" fill="#000" >120%</text>
<line x1="19.5" y1="259.80" x2="225.5" y2="259.80" stroke="#cdcdcd" stroke-width="0.8"/>
<text class="sf" x="16.30" y="261.20" font-size="4.1" text-anchor="end" fill="#000" >110%</text>
<line x1="19.5" y1="269.60" x2="225.5" y2="269.60" stroke="#cdcdcd" stroke-width="0.8"/>
<text class="sf" x="16.30" y="271.00" font-size="4.1" text-anchor="end" fill="#000" >100%</text>
<line x1="19.5" y1="279.40" x2="225.5" y2="279.40" stroke="#cdcdcd" stroke-width="0.8"/>
<text class="sf" x="16.30" y="280.80" font-size="4.1" text-anchor="end" fill="#000" >90%</text>
<line x1="19.5" y1="289.20" x2="225.5" y2="289.20" stroke="#cdcdcd" stroke-width="0.8"/>
<text class="sf" x="16.30" y="290.60" font-size="4.1" text-anchor="end" fill="#000" >80%</text>
<line x1="19.5" y1="299.00" x2="225.5" y2="299.00" stroke="#cdcdcd" stroke-width="0.8"/>
<text class="sf" x="16.30" y="300.40" font-size="4.1" text-anchor="end" fill="#000" >70%</text>
<line x1="19.5" y1="308.80" x2="225.5" y2="308.80" stroke="#cdcdcd" stroke-width="0.8"/>
<text class="sf" x="16.30" y="310.20" font-size="4.1" text-anchor="end" fill="#000" >60%</text>
<line x1="19.5" y1="318.60" x2="225.5" y2="318.60" stroke="#cdcdcd" stroke-width="0.8"/>
<text class="sf" x="16.30" y="320.00" font-size="4.1" text-anchor="end" fill="#000" >50%</text>
<line x1="19.5" y1="328.40" x2="225.5" y2="328.40" stroke="#cdcdcd" stroke-width="0.8"/>
<text class="sf" x="16.30" y="329.80" font-size="4.1" text-anchor="end" fill="#000" >40%</text>
<line x1="19.5" y1="338.20" x2="225.5" y2="338.20" stroke="#cdcdcd" stroke-width="0.8"/>
<text class="sf" x="16.30" y="339.60" font-size="4.1" text-anchor="end" fill="#000" >30%</text>
<line x1="19.5" y1="348.00" x2="225.5" y2="348.00" stroke="#cdcdcd" stroke-width="0.8"/>
<text class="sf" x="16.30" y="349.40" font-size="4.1" text-anchor="end" fill="#000" >20%</text>
<line x1="19.5" y1="357.80" x2="225.5" y2="357.80" stroke="#cdcdcd" stroke-width="0.8"/>
<text class="sf" x="16.30" y="359.20" font-size="4.1" text-anchor="end" fill="#000" >10%</text>
<line x1="19.5" y1="367.60" x2="225.5" y2="367.60" stroke="#b4b4b4" stroke-width="0.8"/>
<text class="sf" x="16.30" y="369.00" font-size="4.1" text-anchor="end" fill="#000" >0%</text>
<line x1="19.5" y1="250" x2="19.5" y2="369.1" stroke="#b0b0b0" stroke-width="0.7"/>
<line x1="19.50" y1="367.6" x2="19.50" y2="369.1" stroke="#b0b0b0" stroke-width="0.7"/>
<text class="sf" x="19.50" y="375.00" font-size="4.1" text-anchor="middle" fill="#000" >0</text>
<line x1="40.00" y1="367.6" x2="40.00" y2="369.1" stroke="#b0b0b0" stroke-width="0.7"/>
<text class="sf" x="40.00" y="375.00" font-size="4.1" text-anchor="middle" fill="#000" >5</text>
<line x1="60.50" y1="367.6" x2="60.50" y2="369.1" stroke="#b0b0b0" stroke-width="0.7"/>
<text class="sf" x="60.50" y="375.00" font-size="4.1" text-anchor="middle" fill="#000" >10</text>
<line x1="81.00" y1="367.6" x2="81.00" y2="369.1" stroke="#b0b0b0" stroke-width="0.7"/>
<text class="sf" x="81.00" y="375.00" font-size="4.1" text-anchor="middle" fill="#000" >15</text>
<line x1="101.50" y1="367.6" x2="101.50" y2="369.1" stroke="#b0b0b0" stroke-width="0.7"/>
<text class="sf" x="101.50" y="375.00" font-size="4.1" text-anchor="middle" fill="#000" >20</text>
<line x1="122.00" y1="367.6" x2="122.00" y2="369.1" stroke="#b0b0b0" stroke-width="0.7"/>
<text class="sf" x="122.00" y="375.00" font-size="4.1" text-anchor="middle" fill="#000" >25</text>
<line x1="142.50" y1="367.6" x2="142.50" y2="369.1" stroke="#b0b0b0" stroke-width="0.7"/>
<text class="sf" x="142.50" y="375.00" font-size="4.1" text-anchor="middle" fill="#000" >30</text>
<line x1="163.00" y1="367.6" x2="163.00" y2="369.1" stroke="#b0b0b0" stroke-width="0.7"/>
<text class="sf" x="163.00" y="375.00" font-size="4.1" text-anchor="middle" fill="#000" >35</text>
<line x1="183.50" y1="367.6" x2="183.50" y2="369.1" stroke="#b0b0b0" stroke-width="0.7"/>
<text class="sf" x="183.50" y="375.00" font-size="4.1" text-anchor="middle" fill="#000" >40</text>
<line x1="204.00" y1="367.6" x2="204.00" y2="369.1" stroke="#b0b0b0" stroke-width="0.7"/>
<text class="sf" x="204.00" y="375.00" font-size="4.1" text-anchor="middle" fill="#000" >45</text>
<line x1="224.50" y1="367.6" x2="224.50" y2="369.1" stroke="#b0b0b0" stroke-width="0.7"/>
<text class="sf" x="224.50" y="375.00" font-size="4.1" text-anchor="middle" fill="#000" >50</text>
<text class="sf" x="122.10" y="381.40" font-size="5.6" text-anchor="middle" fill="#000" >CEP-701 (nM)</text>
<text class="sf" font-size="5.6" text-anchor="middle" transform="translate(5.3,308.8) rotate(-90)">% OD Control</text>
<line x1="23.60" y1="254.41" x2="23.60" y2="262.25" stroke="#a8a8a8" stroke-width="0.7"/>
<line x1="40.00" y1="261.27" x2="40.00" y2="265.19" stroke="#a8a8a8" stroke-width="0.7"/>
<line x1="60.50" y1="266.66" x2="60.50" y2="274.50" stroke="#a8a8a8" stroke-width="0.7"/>
<line x1="122.00" y1="277.44" x2="122.00" y2="285.28" stroke="#a8a8a8" stroke-width="0.7"/>
<line x1="224.50" y1="277.93" x2="224.50" y2="283.81" stroke="#a8a8a8" stroke-width="0.7"/>
<path d="M19.50,269.60 C20.87,263.96 22.23,258.33 23.60,258.33 C29.07,258.33 34.53,261.45 40.00,263.23 C46.83,265.45 53.67,268.87 60.50,270.58 C81.00,275.70 101.50,281.36 122.00,281.36 C156.17,281.36 190.33,281.12 224.50,280.87" fill="none" stroke="#8a8a8a" stroke-width="1.15" stroke-dasharray="3.8 2.6"/>
<path d="M19.50,268.10 L21.00,269.60 L19.50,271.10 L18.00,269.60Z" fill="#858585"/>
<path d="M23.60,256.83 L25.10,258.33 L23.60,259.83 L22.10,258.33Z" fill="#858585"/>
<path d="M40.00,261.73 L41.50,263.23 L40.00,264.73 L38.50,263.23Z" fill="#858585"/>
<path d="M60.50,269.08 L62.00,270.58 L60.50,272.08 L59.00,270.58Z" fill="#858585"/>
<path d="M122.00,279.86 L123.50,281.36 L122.00,282.86 L120.50,281.36Z" fill="#858585"/>
<path d="M224.50,279.37 L226.00,280.87 L224.50,282.37 L223.00,280.87Z" fill="#858585"/>
<line x1="23.60" y1="270.58" x2="23.60" y2="278.42" stroke="#a8a8a8" stroke-width="0.7"/>
<line x1="40.00" y1="288.22" x2="40.00" y2="299.98" stroke="#a8a8a8" stroke-width="0.7"/>
<line x1="60.50" y1="302.43" x2="60.50" y2="312.23" stroke="#a8a8a8" stroke-width="0.7"/>
<line x1="122.00" y1="322.03" x2="122.00" y2="327.91" stroke="#a8a8a8" stroke-width="0.7"/>
<line x1="224.50" y1="333.30" x2="224.50" y2="341.14" stroke="#a8a8a8" stroke-width="0.7"/>
<path d="M19.50,269.60 C20.87,271.23 22.23,272.87 23.60,274.50 C29.07,281.03 34.53,289.47 40.00,294.10 C46.83,299.89 53.67,304.43 60.50,307.33 C81.00,316.03 101.50,321.39 122.00,324.97 C156.17,330.94 190.33,334.08 224.50,337.22" fill="none" stroke="#585858" stroke-width="1.0"/>
<line x1="23.60" y1="266.66" x2="23.60" y2="272.54" stroke="#999" stroke-width="0.7"/>
<line x1="40.00" y1="275.48" x2="40.00" y2="281.36" stroke="#999" stroke-width="0.7"/>
<line x1="60.50" y1="282.34" x2="60.50" y2="286.26" stroke="#999" stroke-width="0.7"/>
<line x1="122.00" y1="292.14" x2="122.00" y2="298.02" stroke="#999" stroke-width="0.7"/>
<line x1="224.50" y1="295.28" x2="224.50" y2="305.08" stroke="#999" stroke-width="0.7"/>
<path d="M19.50,269.60 C20.87,269.60 22.23,269.60 23.60,269.60 C29.07,269.60 34.53,276.35 40.00,278.42 C46.83,281.01 53.67,282.75 60.50,284.30 C81.00,288.95 101.50,293.41 122.00,295.08 C156.17,297.86 190.33,299.02 224.50,300.18" fill="none" stroke="#0a0a0a" stroke-width="1.15"/>
<rect x="17.35" y="267.45" width="4.30" height="4.30" fill="#000"/>
<rect x="21.45" y="267.45" width="4.30" height="4.30" fill="#000"/>
<rect x="37.85" y="276.27" width="4.30" height="4.30" fill="#000"/>
<rect x="58.35" y="282.15" width="4.30" height="4.30" fill="#000"/>
<rect x="119.85" y="292.93" width="4.30" height="4.30" fill="#000"/>
<rect x="222.35" y="298.03" width="4.30" height="4.30" fill="#000"/>
<line x1="23.60" y1="265.68" x2="23.60" y2="271.56" stroke="#999" stroke-width="0.7"/>
<line x1="40.00" y1="276.95" x2="40.00" y2="284.79" stroke="#999" stroke-width="0.7"/>
<line x1="60.50" y1="292.14" x2="60.50" y2="301.94" stroke="#999" stroke-width="0.7"/>
<line x1="122.00" y1="311.94" x2="122.00" y2="317.82" stroke="#999" stroke-width="0.7"/>
<line x1="224.50" y1="318.60" x2="224.50" y2="324.48" stroke="#999" stroke-width="0.7"/>
<path d="M19.50,269.60 C20.87,269.11 22.23,268.62 23.60,268.62 C29.07,268.62 34.53,276.68 40.00,280.87 C46.83,286.11 53.67,293.90 60.50,297.04 C81.00,306.46 101.50,312.58 122.00,314.88 C156.17,318.71 190.33,320.12 224.50,321.54" fill="none" stroke="#0a0a0a" stroke-width="1.15"/>
<path d="M19.50,267.30 L21.80,271.44 L17.20,271.44Z" fill="#000"/>
<path d="M23.60,266.32 L25.90,270.46 L21.30,270.46Z" fill="#000"/>
<path d="M40.00,278.57 L42.30,282.71 L37.70,282.71Z" fill="#000"/>
<path d="M60.50,294.74 L62.80,298.88 L58.20,298.88Z" fill="#000"/>
<path d="M122.00,312.58 L124.30,316.72 L119.70,316.72Z" fill="#000"/>
<path d="M224.50,319.24 L226.80,323.38 L222.20,323.38Z" fill="#000"/>
<rect x="126" y="247.5" width="101.6" height="31.5" fill="#fff" stroke="#b5b5b5" stroke-width="0.8"/>
<line x1="129" y1="252.4" x2="137.5" y2="252.4" stroke="#8a8a8a" stroke-width="1.15" stroke-dasharray="2.2 1.4"/>
<path d="M133.20,251.05 L134.55,252.40 L133.20,253.75 L131.85,252.40Z" fill="#858585"/>
<text class="sf" x="138.80" y="253.90" font-size="4.5" text-anchor="start" fill="#000" >M14(R)5214</text>
<line x1="129" y1="259.9" x2="137.5" y2="259.9" stroke="#0a0a0a" stroke-width="1.15"/>
<rect x="131.26" y="257.96" width="3.87" height="3.87" fill="#000"/>
<text class="sf" x="138.80" y="261.40" font-size="4.5" text-anchor="start" fill="#000" >M14(R)5214 + 5uM PI3K Inhibitor</text>
<line x1="129" y1="267.1" x2="137.5" y2="267.1" stroke="#0a0a0a" stroke-width="1.15"/>
<path d="M133.20,265.03 L135.27,268.76 L131.13,268.76Z" fill="#000"/>
<text class="sf" x="138.80" y="268.60" font-size="4.5" text-anchor="start" fill="#000" >M14(R)5214 + 5 uM MEK Inhibitor</text>
<line x1="129" y1="274.6" x2="137.5" y2="274.6" stroke="#585858" stroke-width="1.0"/>
<text class="sf" x="138.80" y="276.10" font-size="4.5" text-anchor="start" fill="#000" >M14(R)5214 + 5 uM PI3K &amp; MEK Inhibitor</text>
<text class="ss" x="287.40" y="241.90" font-size="15.5" text-anchor="start" fill="#000" >D</text>
<line x1="310.5" y1="249.30" x2="516" y2="249.30" stroke="#cdcdcd" stroke-width="0.8"/>
<text class="sf" x="307.30" y="250.70" font-size="4.1" text-anchor="end" fill="#000" >120%</text>
<line x1="310.5" y1="259.11" x2="516" y2="259.11" stroke="#cdcdcd" stroke-width="0.8"/>
<text class="sf" x="307.30" y="260.51" font-size="4.1" text-anchor="end" fill="#000" >110%</text>
<line x1="310.5" y1="268.92" x2="516" y2="268.92" stroke="#cdcdcd" stroke-width="0.8"/>
<text class="sf" x="307.30" y="270.32" font-size="4.1" text-anchor="end" fill="#000" >100%</text>
<line x1="310.5" y1="278.73" x2="516" y2="278.73" stroke="#cdcdcd" stroke-width="0.8"/>
<text class="sf" x="307.30" y="280.12" font-size="4.1" text-anchor="end" fill="#000" >90%</text>
<line x1="310.5" y1="288.53" x2="516" y2="288.53" stroke="#cdcdcd" stroke-width="0.8"/>
<text class="sf" x="307.30" y="289.93" font-size="4.1" text-anchor="end" fill="#000" >80%</text>
<line x1="310.5" y1="298.34" x2="516" y2="298.34" stroke="#cdcdcd" stroke-width="0.8"/>
<text class="sf" x="307.30" y="299.74" font-size="4.1" text-anchor="end" fill="#000" >70%</text>
<line x1="310.5" y1="308.15" x2="516" y2="308.15" stroke="#cdcdcd" stroke-width="0.8"/>
<text class="sf" x="307.30" y="309.55" font-size="4.1" text-anchor="end" fill="#000" >60%</text>
<line x1="310.5" y1="317.96" x2="516" y2="317.96" stroke="#cdcdcd" stroke-width="0.8"/>
<text class="sf" x="307.30" y="319.36" font-size="4.1" text-anchor="end" fill="#000" >50%</text>
<line x1="310.5" y1="327.77" x2="516" y2="327.77" stroke="#cdcdcd" stroke-width="0.8"/>
<text class="sf" x="307.30" y="329.17" font-size="4.1" text-anchor="end" fill="#000" >40%</text>
<line x1="310.5" y1="337.57" x2="516" y2="337.57" stroke="#cdcdcd" stroke-width="0.8"/>
<text class="sf" x="307.30" y="338.97" font-size="4.1" text-anchor="end" fill="#000" >30%</text>
<line x1="310.5" y1="347.38" x2="516" y2="347.38" stroke="#cdcdcd" stroke-width="0.8"/>
<text class="sf" x="307.30" y="348.78" font-size="4.1" text-anchor="end" fill="#000" >20%</text>
<line x1="310.5" y1="357.19" x2="516" y2="357.19" stroke="#cdcdcd" stroke-width="0.8"/>
<text class="sf" x="307.30" y="358.59" font-size="4.1" text-anchor="end" fill="#000" >10%</text>
<line x1="310.5" y1="367.00" x2="516" y2="367.00" stroke="#b4b4b4" stroke-width="0.8"/>
<text class="sf" x="307.30" y="368.40" font-size="4.1" text-anchor="end" fill="#000" >0%</text>
<line x1="310.5" y1="249.3" x2="310.5" y2="368.5" stroke="#b0b0b0" stroke-width="0.7"/>
<line x1="310.50" y1="367.0" x2="310.50" y2="368.5" stroke="#b0b0b0" stroke-width="0.7"/>
<text class="sf" x="310.50" y="374.50" font-size="4.1" text-anchor="middle" fill="#000" >0</text>
<line x1="330.95" y1="367.0" x2="330.95" y2="368.5" stroke="#b0b0b0" stroke-width="0.7"/>
<text class="sf" x="330.95" y="374.50" font-size="4.1" text-anchor="middle" fill="#000" >5</text>
<line x1="351.40" y1="367.0" x2="351.40" y2="368.5" stroke="#b0b0b0" stroke-width="0.7"/>
<text class="sf" x="351.40" y="374.50" font-size="4.1" text-anchor="middle" fill="#000" >10</text>
<line x1="371.85" y1="367.0" x2="371.85" y2="368.5" stroke="#b0b0b0" stroke-width="0.7"/>
<text class="sf" x="371.85" y="374.50" font-size="4.1" text-anchor="middle" fill="#000" >15</text>
<line x1="392.30" y1="367.0" x2="392.30" y2="368.5" stroke="#b0b0b0" stroke-width="0.7"/>
<text class="sf" x="392.30" y="374.50" font-size="4.1" text-anchor="middle" fill="#000" >20</text>
<line x1="412.75" y1="367.0" x2="412.75" y2="368.5" stroke="#b0b0b0" stroke-width="0.7"/>
<text class="sf" x="412.75" y="374.50" font-size="4.1" text-anchor="middle" fill="#000" >25</text>
<line x1="433.20" y1="367.0" x2="433.20" y2="368.5" stroke="#b0b0b0" stroke-width="0.7"/>
<text class="sf" x="433.20" y="374.50" font-size="4.1" text-anchor="middle" fill="#000" >30</text>
<line x1="453.65" y1="367.0" x2="453.65" y2="368.5" stroke="#b0b0b0" stroke-width="0.7"/>
<text class="sf" x="453.65" y="374.50" font-size="4.1" text-anchor="middle" fill="#000" >35</text>
<line x1="474.10" y1="367.0" x2="474.10" y2="368.5" stroke="#b0b0b0" stroke-width="0.7"/>
<text class="sf" x="474.10" y="374.50" font-size="4.1" text-anchor="middle" fill="#000" >40</text>
<line x1="494.55" y1="367.0" x2="494.55" y2="368.5" stroke="#b0b0b0" stroke-width="0.7"/>
<text class="sf" x="494.55" y="374.50" font-size="4.1" text-anchor="middle" fill="#000" >45</text>
<line x1="515.00" y1="367.0" x2="515.00" y2="368.5" stroke="#b0b0b0" stroke-width="0.7"/>
<text class="sf" x="515.00" y="374.50" font-size="4.1" text-anchor="middle" fill="#000" >50</text>
<text class="sf" x="412.65" y="381.00" font-size="5.6" text-anchor="middle" fill="#000" >CEP-701 (nM)</text>
<text class="sf" font-size="5.6" text-anchor="middle" transform="translate(295.7,308.15) rotate(-90)">% OD Control</text>
<line x1="310.50" y1="262.05" x2="310.50" y2="275.78" stroke="#a8a8a8" stroke-width="0.7"/>
<line x1="314.59" y1="261.07" x2="314.59" y2="270.88" stroke="#a8a8a8" stroke-width="0.7"/>
<line x1="330.95" y1="275.78" x2="330.95" y2="285.59" stroke="#a8a8a8" stroke-width="0.7"/>
<line x1="351.40" y1="288.53" x2="351.40" y2="296.38" stroke="#a8a8a8" stroke-width="0.7"/>
<line x1="412.75" y1="304.23" x2="412.75" y2="316.00" stroke="#a8a8a8" stroke-width="0.7"/>
<line x1="515.00" y1="316.00" x2="515.00" y2="325.81" stroke="#a8a8a8" stroke-width="0.7"/>
<path d="M310.50,268.92 C311.86,267.45 313.23,265.97 314.59,265.97 C320.04,265.97 325.50,276.83 330.95,280.69 C337.77,285.51 344.58,289.69 351.40,292.46 C371.85,300.76 392.30,306.83 412.75,310.11 C446.83,315.59 480.92,318.24 515.00,320.90" fill="none" stroke="#8a8a8a" stroke-width="1.15" stroke-dasharray="3.8 2.6"/>
<path d="M310.50,267.42 L312.00,268.92 L310.50,270.42 L309.00,268.92Z" fill="#858585"/>
<path d="M314.59,264.47 L316.09,265.97 L314.59,267.47 L313.09,265.97Z" fill="#858585"/>
<path d="M330.95,279.19 L332.45,280.69 L330.95,282.19 L329.45,280.69Z" fill="#858585"/>
<path d="M351.40,290.96 L352.90,292.46 L351.40,293.96 L349.90,292.46Z" fill="#858585"/>
<path d="M412.75,308.61 L414.25,310.11 L412.75,311.61 L411.25,310.11Z" fill="#858585"/>
<path d="M515.00,319.40 L516.50,320.90 L515.00,322.40 L513.50,320.90Z" fill="#858585"/>
<line x1="314.59" y1="274.80" x2="314.59" y2="280.69" stroke="#a8a8a8" stroke-width="0.7"/>
<line x1="330.95" y1="294.91" x2="330.95" y2="300.79" stroke="#a8a8a8" stroke-width="0.7"/>
<line x1="351.40" y1="306.68" x2="351.40" y2="314.53" stroke="#a8a8a8" stroke-width="0.7"/>
<line x1="412.75" y1="325.81" x2="412.75" y2="331.69" stroke="#a8a8a8" stroke-width="0.7"/>
<line x1="515.00" y1="334.63" x2="515.00" y2="340.52" stroke="#a8a8a8" stroke-width="0.7"/>
<path d="M310.50,268.92 C311.86,272.20 313.23,275.48 314.59,277.74 C320.04,286.78 325.50,293.28 330.95,297.85 C337.77,303.56 344.58,307.69 351.40,310.60 C371.85,319.33 392.30,325.88 412.75,328.75 C446.83,333.52 480.92,335.55 515.00,337.57" fill="none" stroke="#585858" stroke-width="1.0"/>
<line x1="314.59" y1="270.88" x2="314.59" y2="276.76" stroke="#999" stroke-width="0.7"/>
<line x1="330.95" y1="287.06" x2="330.95" y2="292.95" stroke="#999" stroke-width="0.7"/>
<line x1="351.40" y1="294.42" x2="351.40" y2="300.30" stroke="#999" stroke-width="0.7"/>
<line x1="412.75" y1="312.07" x2="412.75" y2="319.92" stroke="#999" stroke-width="0.7"/>
<line x1="515.00" y1="323.35" x2="515.00" y2="329.24" stroke="#999" stroke-width="0.7"/>
<path d="M310.50,268.92 C311.86,270.62 313.23,272.31 314.59,273.82 C320.04,279.85 325.50,287.08 330.95,290.00 C337.77,293.66 344.58,295.08 351.40,297.36 C371.85,304.19 392.30,312.77 412.75,316.00 C446.83,321.38 480.92,323.84 515.00,326.30" fill="none" stroke="#0a0a0a" stroke-width="1.15"/>
<rect x="308.35" y="266.77" width="4.30" height="4.30" fill="#000"/>
<rect x="312.44" y="271.67" width="4.30" height="4.30" fill="#000"/>
<rect x="328.80" y="287.85" width="4.30" height="4.30" fill="#000"/>
<rect x="349.25" y="295.21" width="4.30" height="4.30" fill="#000"/>
<rect x="410.60" y="313.85" width="4.30" height="4.30" fill="#000"/>
<rect x="512.85" y="324.15" width="4.30" height="4.30" fill="#000"/>
<line x1="314.59" y1="276.76" x2="314.59" y2="284.61" stroke="#999" stroke-width="0.7"/>
<line x1="330.95" y1="296.38" x2="330.95" y2="302.26" stroke="#999" stroke-width="0.7"/>
<line x1="351.40" y1="305.21" x2="351.40" y2="316.98" stroke="#999" stroke-width="0.7"/>
<line x1="412.75" y1="327.77" x2="412.75" y2="333.65" stroke="#999" stroke-width="0.7"/>
<line x1="515.00" y1="336.59" x2="515.00" y2="346.40" stroke="#999" stroke-width="0.7"/>
<path d="M310.50,268.92 C311.86,273.58 313.23,278.25 314.59,280.69 C320.04,290.43 325.50,295.10 330.95,299.32 C337.77,304.60 344.58,308.15 351.40,311.09 C371.85,319.92 392.30,327.32 412.75,330.71 C446.83,336.35 480.92,338.93 515.00,341.50" fill="none" stroke="#0a0a0a" stroke-width="1.15"/>
<path d="M310.50,266.62 L312.80,270.76 L308.20,270.76Z" fill="#000"/>
<path d="M314.59,278.39 L316.89,282.53 L312.29,282.53Z" fill="#000"/>
<path d="M330.95,297.02 L333.25,301.16 L328.65,301.16Z" fill="#000"/>
<path d="M351.40,308.79 L353.70,312.93 L349.10,312.93Z" fill="#000"/>
<path d="M412.75,328.41 L415.05,332.55 L410.45,332.55Z" fill="#000"/>
<path d="M515.00,339.20 L517.30,343.34 L512.70,343.34Z" fill="#000"/>
<rect x="420.2" y="246" width="98.19999999999999" height="33.5" fill="#fff" stroke="#b5b5b5" stroke-width="0.8"/>
<line x1="423.2" y1="251.6" x2="431.7" y2="251.6" stroke="#8a8a8a" stroke-width="1.15" stroke-dasharray="2.2 1.4"/>
<path d="M427.40,250.25 L428.75,251.60 L427.40,252.95 L426.05,251.60Z" fill="#858585"/>
<text class="sf" x="433.20" y="253.10" font-size="4.5" text-anchor="start" fill="#000" >M14(R)701</text>
<line x1="423.2" y1="260.1" x2="431.7" y2="260.1" stroke="#0a0a0a" stroke-width="1.15"/>
<rect x="425.46" y="258.17" width="3.87" height="3.87" fill="#000"/>
<text class="sf" x="433.20" y="261.60" font-size="4.5" text-anchor="start" fill="#000" >M14(R)701 + 5uM PI3K Inhibitor</text>
<line x1="423.2" y1="268.3" x2="431.7" y2="268.3" stroke="#0a0a0a" stroke-width="1.15"/>
<path d="M427.40,266.23 L429.47,269.96 L425.33,269.96Z" fill="#000"/>
<text class="sf" x="433.20" y="269.80" font-size="4.5" text-anchor="start" fill="#000" >M14(R)701 + 5 uM MEK Inhibitor</text>
<line x1="423.2" y1="276.9" x2="431.7" y2="276.9" stroke="#585858" stroke-width="1.0"/>
<text class="sf" x="433.20" y="278.40" font-size="4.5" text-anchor="start" fill="#000" >M14(R)701 + 5 uM PI3K &amp; MEK Inhibitor</text>
<text class="ss" x="0.60" y="405.00" font-size="15.5" text-anchor="start" fill="#000" >E</text>
<line x1="15.7" y1="541.80" x2="275" y2="541.80" stroke="#a8a8a8" stroke-width="0.8"/>
<text class="sf" x="13.30" y="543.50" font-size="5.2" text-anchor="end" fill="#000" >0</text>
<line x1="15.7" y1="533.15" x2="275" y2="533.15" stroke="#cdcdcd" stroke-width="0.8"/>
<text class="sf" x="13.30" y="534.85" font-size="5.2" text-anchor="end" fill="#000" >2</text>
<line x1="15.7" y1="524.49" x2="275" y2="524.49" stroke="#cdcdcd" stroke-width="0.8"/>
<text class="sf" x="13.30" y="526.19" font-size="5.2" text-anchor="end" fill="#000" >4</text>
<line x1="15.7" y1="515.84" x2="275" y2="515.84" stroke="#cdcdcd" stroke-width="0.8"/>
<text class="sf" x="13.30" y="517.54" font-size="5.2" text-anchor="end" fill="#000" >6</text>
<line x1="15.7" y1="507.19" x2="275" y2="507.19" stroke="#cdcdcd" stroke-width="0.8"/>
<text class="sf" x="13.30" y="508.89" font-size="5.2" text-anchor="end" fill="#000" >8</text>
<line x1="15.7" y1="498.53" x2="275" y2="498.53" stroke="#cdcdcd" stroke-width="0.8"/>
<text class="sf" x="13.30" y="500.23" font-size="5.2" text-anchor="end" fill="#000" >10</text>
<line x1="15.7" y1="489.88" x2="275" y2="489.88" stroke="#cdcdcd" stroke-width="0.8"/>
<text class="sf" x="13.30" y="491.58" font-size="5.2" text-anchor="end" fill="#000" >12</text>
<line x1="15.7" y1="481.23" x2="275" y2="481.23" stroke="#cdcdcd" stroke-width="0.8"/>
<text class="sf" x="13.30" y="482.93" font-size="5.2" text-anchor="end" fill="#000" >14</text>
<line x1="15.7" y1="472.57" x2="275" y2="472.57" stroke="#cdcdcd" stroke-width="0.8"/>
<text class="sf" x="13.30" y="474.27" font-size="5.2" text-anchor="end" fill="#000" >16</text>
<line x1="15.7" y1="463.92" x2="275" y2="463.92" stroke="#cdcdcd" stroke-width="0.8"/>
<text class="sf" x="13.30" y="465.62" font-size="5.2" text-anchor="end" fill="#000" >18</text>
<line x1="15.7" y1="455.27" x2="275" y2="455.27" stroke="#cdcdcd" stroke-width="0.8"/>
<text class="sf" x="13.30" y="456.97" font-size="5.2" text-anchor="end" fill="#000" >20</text>
<line x1="15.7" y1="446.61" x2="275" y2="446.61" stroke="#cdcdcd" stroke-width="0.8"/>
<text class="sf" x="13.30" y="448.31" font-size="5.2" text-anchor="end" fill="#000" >22</text>
<line x1="15.7" y1="437.96" x2="275" y2="437.96" stroke="#cdcdcd" stroke-width="0.8"/>
<text class="sf" x="13.30" y="439.66" font-size="5.2" text-anchor="end" fill="#000" >24</text>
<line x1="15.7" y1="429.31" x2="275" y2="429.31" stroke="#cdcdcd" stroke-width="0.8"/>
<text class="sf" x="13.30" y="431.01" font-size="5.2" text-anchor="end" fill="#000" >26</text>
<line x1="15.7" y1="420.65" x2="275" y2="420.65" stroke="#cdcdcd" stroke-width="0.8"/>
<text class="sf" x="13.30" y="422.35" font-size="5.2" text-anchor="end" fill="#000" >28</text>
<line x1="15.7" y1="412.00" x2="275" y2="412.00" stroke="#cdcdcd" stroke-width="0.8"/>
<text class="sf" x="13.30" y="413.70" font-size="5.2" text-anchor="end" fill="#000" >30</text>
<line x1="17.2" y1="412.0" x2="17.2" y2="541.8" stroke="#a8a8a8" stroke-width="0.8"/>
<rect x="27.52" y="537.47" width="14.6" height="4.33" fill="#9c9c9c" stroke="#000" stroke-width="0.6"/>
<rect x="42.12" y="537.47" width="14.6" height="4.33" fill="#ffffff" stroke="#000" stroke-width="0.6"/>
<rect x="56.72" y="537.47" width="14.6" height="4.33" fill="#000000" stroke="#000" stroke-width="0.6"/>
<line x1="81.65" y1="541.8" x2="81.65" y2="543.4" stroke="#a8a8a8" stroke-width="0.7"/>
<rect x="91.98" y="532.28" width="14.6" height="9.52" fill="#9c9c9c" stroke="#000" stroke-width="0.6"/>
<rect x="106.58" y="510.22" width="14.6" height="31.58" fill="#ffffff" stroke="#000" stroke-width="0.6"/>
<rect x="121.18" y="524.49" width="14.6" height="17.31" fill="#000000" stroke="#000" stroke-width="0.6"/>
<line x1="146.10" y1="541.8" x2="146.10" y2="543.4" stroke="#a8a8a8" stroke-width="0.7"/>
<rect x="156.42" y="534.44" width="14.6" height="7.36" fill="#9c9c9c" stroke="#000" stroke-width="0.6"/>
<rect x="171.02" y="518.87" width="14.6" height="22.93" fill="#ffffff" stroke="#000" stroke-width="0.6"/>
<rect x="185.62" y="520.17" width="14.6" height="21.63" fill="#000000" stroke="#000" stroke-width="0.6"/>
<line x1="210.55" y1="541.8" x2="210.55" y2="543.4" stroke="#a8a8a8" stroke-width="0.7"/>
<rect x="220.88" y="528.82" width="14.6" height="12.98" fill="#9c9c9c" stroke="#000" stroke-width="0.6"/>
<rect x="235.47" y="424.98" width="14.6" height="116.82" fill="#ffffff" stroke="#000" stroke-width="0.6"/>
<rect x="250.07" y="476.90" width="14.6" height="64.90" fill="#000000" stroke="#000" stroke-width="0.6"/>
<line x1="275.00" y1="541.8" x2="275.00" y2="543.4" stroke="#a8a8a8" stroke-width="0.7"/>
<text class="sf" x="49.42" y="550.70" font-size="5.45" text-anchor="middle" fill="#000" >CEP-701</text>
<text class="sf" x="113.88" y="550.70" font-size="5.45" text-anchor="middle" fill="#000" >CEP-701 + PI3K Inh.</text>
<text class="sf" x="178.32" y="550.70" font-size="5.45" text-anchor="middle" fill="#000" >CEP-701 + MEK Inh.</text>
<text class="sf" x="242.78" y="550.70" font-size="5.45" text-anchor="middle" fill="#000" >CEP-701 + PI3K + MEK</text>
<text class="sf" x="242.78" y="557.00" font-size="5.45" text-anchor="middle" fill="#000" >Inh.</text>
<text class="sf" font-size="6.2" text-anchor="middle" transform="translate(5.7,476.4) rotate(-90)">Fold Increase in Dead Cells</text>
<rect x="18.4" y="412.8" width="62.4" height="30.8" fill="#fff" stroke="#9a9a9a" stroke-width="0.8"/>
<rect x="29.5" y="416.4" width="4.0" height="4.0" fill="#9c9c9c" stroke="#000" stroke-width="0.6"/>
<text class="sf" x="35.30" y="420.55" font-size="6.7" text-anchor="start" fill="#000" >Molm14</text>
<rect x="29.5" y="426.5" width="4.0" height="4.0" fill="#ffffff" stroke="#000" stroke-width="0.6"/>
<text class="sf" x="35.30" y="430.65" font-size="6.7" text-anchor="start" fill="#000" >M14(R)5214</text>
<rect x="29.5" y="436.5" width="4.0" height="4.0" fill="#000000" stroke="#000" stroke-width="0.6"/>
<text class="sf" x="35.30" y="440.65" font-size="6.7" text-anchor="start" fill="#000" >M14(R)701</text>
</svg></body></html>
